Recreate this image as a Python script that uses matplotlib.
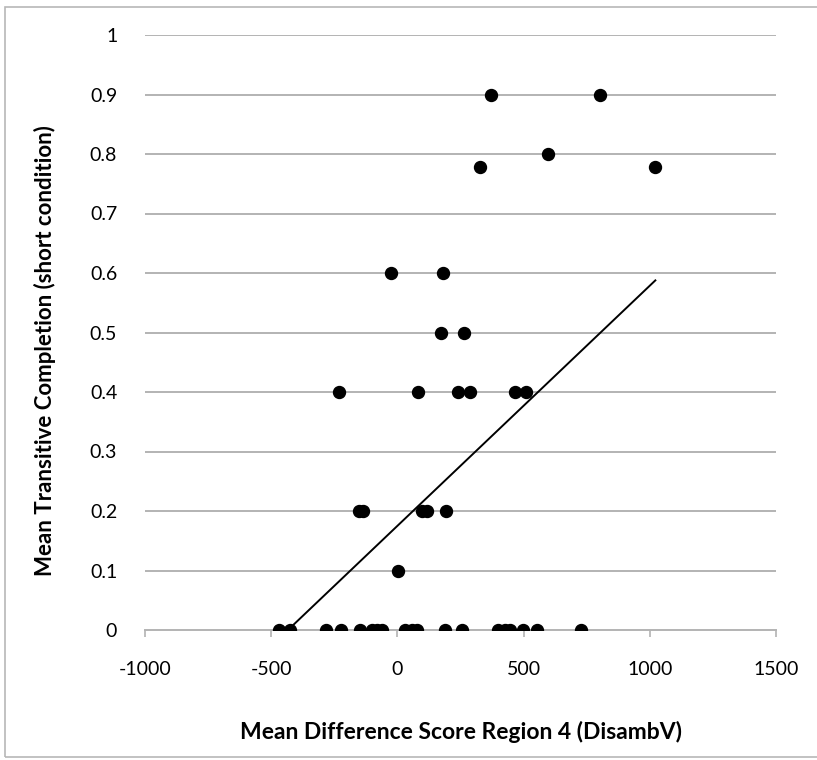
import matplotlib
matplotlib.use("Agg")
import matplotlib.pyplot as plt
import numpy as np
from matplotlib.patches import Rectangle

# Data (x: difference score, y: completion rate)
x_top = [372, 804, 598, 329, 1022]
y_top = [0.9, 0.9, 0.8, 0.7778, 0.7778]

x_06 = [-27, 182]
x_05 = [174, 262]
x_04 = [-233, 83, 241, 286, 464, 511]
x_02 = [-154, -135, 99, 119, 194]
x_01 = [4]
x_00 = [-470, -424, -282, -222, -149, -100, -80, -61, 32, 58, 78,
        190, 256, 397, 428, 448, 496, 553, 728]

x_ticks = [-1000, -500, 0, 500, 1000, 1500]
y_ticks = [0, 0.1, 0.2, 0.3, 0.4, 0.5, 0.6, 0.7, 0.8, 0.9, 1]

xs = np.array(x_top + x_06 + x_05 + x_04 + x_02 + x_01 + x_00, dtype=float)
ys = np.array(y_top + [0.6] * len(x_06) + [0.5] * len(x_05) + [0.4] * len(x_04)
              + [0.2] * len(x_02) + [0.1] * len(x_01) + [0.0] * len(x_00))

plt.rcParams["font.family"] = ["Lato", "DejaVu Sans"]

fig = plt.figure(figsize=(8.17, 7.6), dpi=100)
W, H = 817, 760
ax = fig.add_axes([145 / W, (H - 630) / H, 631 / W, 595 / H])

# frame around the whole chart
fig.patches.append(Rectangle((5 / W, 3 / H), 1.2, (H - 10) / H, transform=fig.transFigure,
                             fill=False, edgecolor="#b8b8b8", linewidth=1.2))

grid_c = "#b3b3b3"
for yv in y_ticks[1:]:
    ax.axhline(yv, color=grid_c, linewidth=1.4, zorder=1)

# linear trendline (least squares over all points, clipped at y=0 like Excel)
slope, icpt = np.polyfit(xs, ys, 1)
tx = np.array([xs.min(), xs.max()])
ax.plot(tx, slope * tx + icpt, color="black", linewidth=1.4, zorder=2)

ax.plot(xs, ys, "o", color="black", markersize=8.6, zorder=3)

ax.set_xlim(-1000, 1500)
ax.set_ylim(0, 1)
ax.set_xticks(x_ticks)
ax.set_xticklabels([str(v) for v in x_ticks])
ax.set_yticks(y_ticks)
ax.set_yticklabels(["0", "0.1", "0.2", "0.3", "0.4", "0.5", "0.6", "0.7", "0.8", "0.9", "1"])

for s in ["top", "right", "left"]:
    ax.spines[s].set_visible(False)
ax.spines["bottom"].set_color(grid_c)
ax.spines["bottom"].set_linewidth(1.4)
ax.tick_params(axis="x", length=5, width=1.2, color=grid_c, pad=17, labelsize=14)
ax.tick_params(axis="y", length=0, pad=20, labelsize=14)

ax.set_xlabel("Mean Difference Score Region 4 (DisambV)", fontsize=16.5,
              fontweight="bold")
ax.set_ylabel("Mean Transitive Completion (short condition)", fontsize=16,
              fontweight="bold")
ax.xaxis.set_label_coords(0.5, -0.152)
ax.yaxis.set_label_coords(-0.141, 0.47)

fig.savefig("out.png", dpi=100)
